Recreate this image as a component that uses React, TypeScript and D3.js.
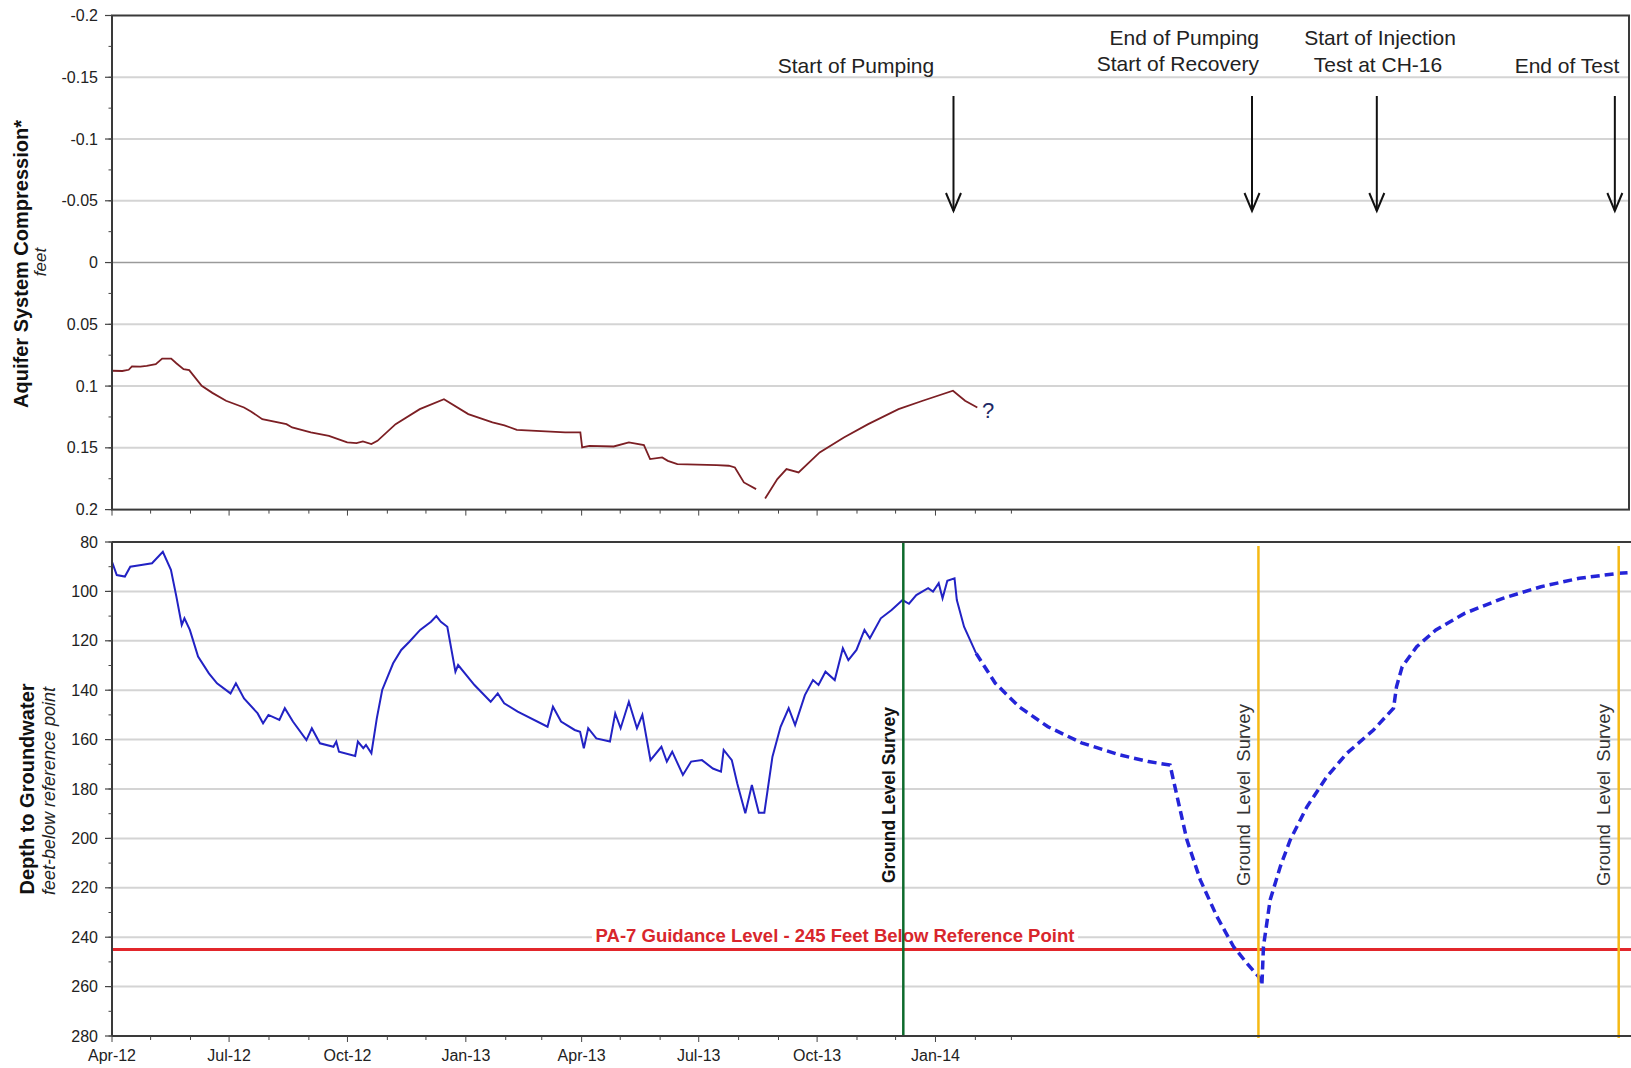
import React from 'react'
import * as d3 from 'd3'

const W = 1631
const H = 1068

// day = days after 1 Apr 2012
const compression: [number, number][] = [
  [0, 0.0876], [8, 0.0878], [13, 0.0868], [15.5, 0.0841], [22, 0.0843], [27, 0.0836],
  [31, 0.0828], [34, 0.0822], [39, 0.0777], [46, 0.0777], [50, 0.0815], [55.6, 0.0863],
  [60, 0.0871], [69.7, 0.0998], [78, 0.1055], [88.6, 0.1119], [102.6, 0.1173],
  [108, 0.1205], [116.8, 0.1268], [135.6, 0.1308], [140, 0.1335], [154.5, 0.1375],
  [168.6, 0.1403], [182.8, 0.1456], [190, 0.1462], [195, 0.1448], [201.6, 0.147],
  [206.3, 0.1443], [220.4, 0.1308], [239.2, 0.1187], [258, 0.1106],
  [276.9, 0.1227], [295.7, 0.1294], [305, 0.1318], [314.6, 0.1354], [352.2, 0.1375], [364, 0.1375],
  [365.4, 0.1497], [371, 0.1484], [389.9, 0.1489], [401.7, 0.1456], [413.4, 0.1478],
  [418.2, 0.1591], [427.6, 0.1578], [432, 0.1605], [439.4, 0.1632], [470, 0.164], [479.4, 0.1645],
  [484.1, 0.1659], [491.1, 0.178], [500.6, 0.1834], [504, NaN],
  [507.6, 0.191], [517.1, 0.1753], [524.2, 0.1672], [533.6, 0.1699], [550, 0.1537],
  [568.8, 0.1416], [587.7, 0.1308], [611.3, 0.1187], [630.1, 0.1119], [653.6, 0.1038],
  [663, 0.1119], [672.5, 0.1173],
]

const depthMeasured: [number, number][] = [
  [0, 88], [3.7, 93.4], [10, 94], [14.2, 90], [22.7, 89.3], [31.1, 88.6], [39.5, 84],
  [45.8, 91.3], [50, 102], [54.2, 113.6], [56.3, 110.9], [60.5, 115.6], [66.9, 126.4],
  [75.3, 133.2], [81.6, 137.2], [92.1, 141.3], [96.3, 137.2], [102.6, 143.3],
  [113.2, 149.4], [117.4, 153.4], [121.6, 150], [130.1, 152], [134.3, 147.3],
  [140.6, 152.7], [151.1, 160.2], [155.3, 155.4], [161.6, 161.5], [172.1, 162.9],
  [174.3, 160.8], [176.4, 164.9], [189, 166.6], [191.1, 160.8], [195.3, 163.5],
  [197.4, 162.2], [201.6, 165.5], [205.8, 151.4], [210, 139.9], [218.5, 129.1],
  [224.8, 123.7], [231.1, 120.4], [239.5, 115.6], [247.9, 112.3], [252.1, 110],
  [255.6, 112.3], [260.6, 114.3], [266.9, 132.5], [269, 129.8], [281.7, 137.9],
  [294.3, 144.7], [299.8, 141.3], [304.8, 145.3], [315.3, 148.7], [338.5, 154.8],
  [342.7, 146.7], [349, 152.7], [359.6, 156.1], [363.8, 156.8], [366.7, 163.5],
  [370.1, 155.4], [376.4, 159.5], [387, 160.8], [391.1, 149.4], [395.3, 155.4],
  [401.7, 144.7], [408, 155.4], [412.2, 150], [418.5, 168.3], [427, 162.9],
  [431.2, 168.9], [435.4, 164.9], [443.7, 174.3], [450.1, 168.9], [458.5, 168.3],
  [467, 171.7], [473.3, 173], [475.4, 164.2], [481.7, 168.3], [485.9, 177.7],
  [492.2, 189.8], [497.3, 178.4], [502.7, 189.6], [507, 189.6], [513.3, 166.9],
  [519.6, 154.8], [525.9, 147.3], [530.9, 154.1], [538.5, 142], [544.8, 135.9],
  [549.1, 137.9], [554.5, 132.5], [561.7, 135.9], [568, 123], [572.3, 127.8],
  [578.6, 123.7], [584.8, 115.6], [589, 119], [597.5, 110.9], [605.9, 107.5],
  [614.4, 103.5], [619.4, 105], [625.1, 101.5], [634.3, 98.7], [638.1, 100.1],
  [642.5, 96.7], [645.5, 102.8], [649.2, 95.7], [654.8, 94.7], [656.6, 103.5],
  [662.2, 114.3], [671.6, 125.1],
]

const depthProjected: [number, number][] = [
  [671.6, 125.1], [686.5, 137.2], [705, 146.7], [727.4, 154.8], [753.5, 161.3],
  [783.2, 166.2], [805.5, 168.9], [822.3, 170.3], [835.4, 200.6], [845.8, 216.8],
  [858.8, 231.7], [871.6, 243.8], [882.1, 250.6], [891.1, 256], [893.7, 259.4],
  [894.9, 243.8], [900.1, 224.9], [908, 211.4], [915.7, 200.6], [928.7, 187.2],
  [944.2, 175], [959.8, 165.5], [980.4, 156.1], [996, 147.3], [998.3, 138.6],
  [1002.7, 130.5], [1014, 122.4], [1028.9, 115.6], [1051.2, 108.9], [1080.9, 102.8],
  [1110.6, 98.1], [1140.4, 94.7], [1170.2, 92.7], [1180.7, 92.3],
]

const compressionTicks = [-0.2, -0.15, -0.1, -0.05, 0, 0.05, 0.1, 0.15, 0.2]
const depthTicks = [80, 100, 120, 140, 160, 180, 200, 220, 240, 260, 280]
const quarterLabels = ['Apr-12', 'Jul-12', 'Oct-12', 'Jan-13', 'Apr-13', 'Jul-13', 'Oct-13', 'Jan-14']

const guidanceLevel = 245
const surveyDates = ['2013-12-07', '2014-09-09', '2015-06-16']
const arrowDates = ['2014-01-15', '2014-09-04', '2014-12-10', '2015-06-13']

const FONT = "'Liberation Sans', Arial, sans-serif"

export default function App() {
  const parseDay = d3.timeParse('%Y-%m-%d')
  const parseTick = d3.timeParse('%b-%y')
  const start = parseDay('2012-04-01') as Date
  const toDate = (day: number) => new Date(start.getTime() + day * 864e5)

  const x = d3.scaleTime().domain([start, parseDay('2015-06-24') as Date]).range([112, 1629])
  const yTop = d3.scaleLinear().domain([-0.2, 0.2]).range([15.5, 509.6])
  const yBot = d3.scaleLinear().domain([80, 280]).range([542, 1036])

  const left = x.range()[0]
  const right = x.range()[1]

  const months = d3.timeMonth.range(start, parseDay('2014-03-02') as Date)
  const quarterDates = quarterLabels.map(l => parseTick(l) as Date)
  const isQuarter = (d: Date) => d.getMonth() % 3 === 0

  const topLine = d3.line<[number, number]>()
    .defined(d => !isNaN(d[1]))
    .x(d => x(toDate(d[0])))
    .y(d => yTop(d[1]))
  const botLine = d3.line<[number, number]>()
    .x(d => x(toDate(d[0])))
    .y(d => yBot(d[1]))

  const topMinor = d3.range(-0.2, 0.2001, 0.025)
  const botMinor = d3.range(80, 281, 10)

  const surveyX = surveyDates.map(s => x(parseDay(s) as Date))
  const arrowX = arrowDates.map(s => x(parseDay(s) as Date))

  const yAxis = (scale: d3.ScaleLinear<number, number>, ticks: number[], minor: number[]) => (
    <g>
      {minor.map((v, i) => (
        <line key={'m' + i} x1={left - 3.5} x2={left} y1={scale(v)} y2={scale(v)} stroke="#444" strokeWidth={1} />
      ))}
      {ticks.map(v => (
        <g key={v}>
          <line x1={left - 7} x2={left} y1={scale(v)} y2={scale(v)} stroke="#444" strokeWidth={1.2} />
          <text x={left - 14} y={scale(v)} dy="0.35em" textAnchor="end" fontSize={16} fill="#222">{String(v)}</text>
        </g>
      ))}
    </g>
  )

  const xTicks = (yPos: number) => (
    <g>
      {months.map((d, i) => (
        <line key={i} x1={x(d)} x2={x(d)} y1={yPos} y2={yPos + (isQuarter(d) ? 6 : 4)} stroke="#444" strokeWidth={1} />
      ))}
    </g>
  )

  return (
    <svg width={W} height={H} style={{ position: 'absolute', left: 0, top: 0, background: '#fff' }} fontFamily={FONT}>
      <rect width={W} height={H} fill="#fff" />

      {/* ---------- top panel ---------- */}
      {compressionTicks.slice(1, -1).map(v => (
        <line key={v} x1={left} x2={right} y1={yTop(v)} y2={yTop(v)}
          stroke={v === 0 ? '#9a9a9a' : '#d4d4d4'} strokeWidth={v === 0 ? 1.5 : 2} />
      ))}
      <path d={topLine(compression) || ''} fill="none" stroke="#7c1f24" strokeWidth={1.8} />
      <text x={988} y={418} textAnchor="middle" fontSize={22} fill="#1f2a66">?</text>
      <rect x={left} y={yTop(-0.2)} width={right - left} height={yTop(0.2) - yTop(-0.2)} fill="none" stroke="#3a3a3a" strokeWidth={2} />
      {yAxis(yTop, compressionTicks, topMinor)}
      {xTicks(yTop(0.2))}

      {/* event arrows */}
      {arrowX.map((ax, i) => (
        <g key={i} stroke="#111" strokeWidth={2} fill="none">
          <line x1={ax} x2={ax} y1={96} y2={211} />
          <path d={`M${ax - 7.5},193 L${ax},211 L${ax + 7.5},193`} />
        </g>
      ))}
      <g fontSize={21} fill="#222">
        <text x={856} y={73} textAnchor="middle">Start of Pumping</text>
        <text x={1259} y={45} textAnchor="end">End of Pumping</text>
        <text x={1259} y={71} textAnchor="end">Start of Recovery</text>
        <text x={1380} y={45} textAnchor="middle">Start of Injection</text>
        <text x={1378} y={72} textAnchor="middle">Test at CH-16</text>
        <text x={1567} y={73} textAnchor="middle">End of Test</text>
      </g>

      <text transform="translate(28,264) rotate(-90)" textAnchor="middle" fontSize={20} fontWeight="bold" fill="#111">Aquifer System Compression*</text>
      <text transform="translate(46,262) rotate(-90)" textAnchor="middle" fontSize={17} fontStyle="italic" fill="#222">feet</text>

      {/* ---------- bottom panel ---------- */}
      {depthTicks.slice(1, -1).map(v => (
        <line key={v} x1={left} x2={W} y1={yBot(v)} y2={yBot(v)} stroke="#d4d4d4" strokeWidth={2} />
      ))}
      <line x1={left} x2={W} y1={yBot(guidanceLevel)} y2={yBot(guidanceLevel)} stroke="#e2262b" strokeWidth={3} />
      <rect x={592} y={926} width={486} height={19} fill="#fff" />
      <text x={835} y={942} textAnchor="middle" fontSize={18.5} fontWeight="bold" fill="#d8262c">
        PA-7 Guidance Level - 245 Feet Below Reference Point
      </text>

      <path d={botLine(depthMeasured) || ''} fill="none" stroke="#2222c4" strokeWidth={2} />
      <path d={botLine(depthProjected) || ''} fill="none" stroke="#2424d8" strokeWidth={3.5} strokeDasharray="9 5" />

      {surveyX.map((sx, i) => (
        <g key={i}>
          <line x1={sx} x2={sx} y1={i === 0 ? 541 : 546} y2={i === 0 ? 1036 : 1038}
            stroke={i === 0 ? '#0d6b2c' : '#f5b915'} strokeWidth={2.5} />
          <text transform={`translate(${sx - 8.5},795) rotate(-90)`} textAnchor="middle"
            fontSize={i === 0 ? 17.5 : 18.5} fontWeight={i === 0 ? 'bold' : 'normal'}
            wordSpacing={i === 0 ? 0 : 4} fill={i === 0 ? '#111' : '#333'}>
            Ground Level Survey
          </text>
        </g>
      ))}

      <line x1={left} x2={W} y1={yBot(80)} y2={yBot(80)} stroke="#3a3a3a" strokeWidth={2} />
      <line x1={left} x2={W} y1={yBot(280)} y2={yBot(280)} stroke="#3a3a3a" strokeWidth={2} />
      <line x1={left} x2={left} y1={yBot(80)} y2={yBot(280)} stroke="#3a3a3a" strokeWidth={2} />
      {yAxis(yBot, depthTicks, botMinor)}
      {xTicks(yBot(280))}
      {quarterDates.map((d, i) => (
        <text key={i} x={x(d)} y={1061} textAnchor="middle" fontSize={16} fill="#222">{quarterLabels[i]}</text>
      ))}

      <text transform="translate(34,789) rotate(-90)" textAnchor="middle" fontSize={20} fontWeight="bold" fill="#111">Depth to Groundwater</text>
      <text transform="translate(55,791) rotate(-90)" textAnchor="middle" fontSize={18} fontStyle="italic" fill="#222">feet-below reference point</text>
    </svg>
  )
}
